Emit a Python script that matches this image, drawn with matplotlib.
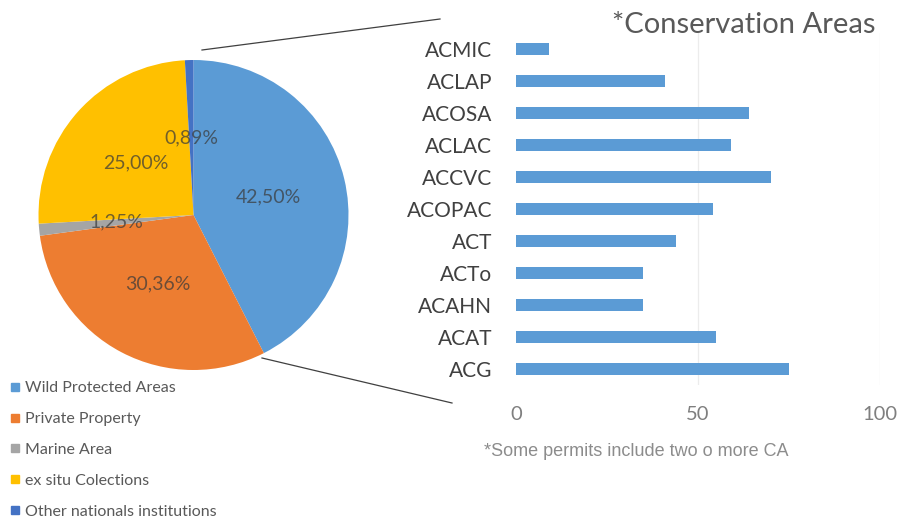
import matplotlib.pyplot as plt
from matplotlib.lines import Line2D
import numpy as np

plt.rcParams['font.family'] = ['Lato', 'DejaVu Sans']

# permits by origin (pie)
origin_labels = ['Wild Protected Areas', 'Private Property', 'Marine Area',
                 'ex situ Colections', 'Other nationals institutions']
origin_share = [42.50, 30.36, 1.25, 25.00, 0.89]
origin_colors = ['#5B9BD5', '#ED7D31', '#A5A5A5', '#FFC000', '#4472C4']

# permits per conservation area (bars, bottom to top)
areas = ['ACG', 'ACAT', 'ACAHN', 'ACTo', 'ACT', 'ACOPAC',
         'ACCVC', 'ACLAC', 'ACOSA', 'ACLAP', 'ACMIC']
permits = [75, 55, 35, 35, 44, 54, 70, 59, 64, 41, 9]
xticks = [0, 50, 100]

W, H = 903, 521
fig = plt.figure(figsize=(W / 100, H / 100), dpi=100)
fig.patch.set_facecolor('white')


def box(left, top, right, bottom):
    # pixel box -> figure fraction [l, b, w, h]
    return [left / W, 1 - bottom / H, (right - left) / W, (bottom - top) / H]


# ---- pie ----
axp = fig.add_axes(box(38.5, 60, 348.5, 370))
wedges, _, autotexts = axp.pie(
    origin_share, colors=origin_colors, startangle=90, counterclock=False,
    autopct=lambda p: f'{p:.2f}%'.replace('.', ','), pctdistance=0.5,
    wedgeprops=dict(linewidth=0), normalize=True)
for t in autotexts:
    t.set_color('#3a3a3a')
    t.set_alpha(0.72)
    t.set_fontsize(14)
axp.set_aspect('equal')
axp.set_xlim(-1, 1)
axp.set_ylim(-1, 1)
axp.axis('off')

# legend below the pie
handles = [Line2D([0], [0], marker='s', linestyle='none', markersize=6,
                  markerfacecolor=c, markeredgecolor=c) for c in origin_colors]
fig.legend(handles, origin_labels, loc='upper left',
           bbox_to_anchor=(2 / W, 1 - 373 / H), frameon=False,
           fontsize=11.5, labelcolor='#595959', handlelength=0.6,
           handletextpad=0.35, labelspacing=1.05, borderpad=0)

# ---- bars ----
axb = fig.add_axes(box(516, 33, 880, 385))
y = np.arange(len(areas))
axb.barh(y, permits, height=0.35, color='#5B9BD5')
axb.set_xlim(0, 100)
axb.set_ylim(-0.5, len(areas) - 0.5)
axb.set_yticks(y)
axb.set_yticklabels(areas, fontsize=15, color='#404040')
axb.set_xticks(xticks)
axb.set_xticklabels([str(v) for v in xticks], fontsize=14.5, color='#7f7f7f')
axb.tick_params(length=0)
axb.tick_params(axis='y', pad=17)
axb.tick_params(axis='x', pad=15)
for v in xticks[1:]:
    axb.axvline(v, color='#ececec', linewidth=0.9, zorder=0)
for s in axb.spines.values():
    s.set_visible(False)

fig.text(612 / W, 1 - 25 / H, '*Conservation Areas', fontsize=21,
         color='#595959', ha='left', va='center')
fig.text(636 / W, 1 - 451 / H, '*Some permits include two o more CA',
         fontsize=13, color='#8c8c8c', ha='center', va='center',
         family=['Liberation Sans', 'DejaVu Sans'])

# connector lines from the pie to the bar panel
for (x0, y0), (x1, y1) in [((202, 50), (440, 19)), ((262, 358), (452, 403))]:
    fig.add_artist(Line2D([x0 / W, x1 / W], [1 - y0 / H, 1 - y1 / H],
                          transform=fig.transFigure, color='#404040',
                          linewidth=0.9))

fig.savefig('out.png', dpi=100, facecolor='white')
